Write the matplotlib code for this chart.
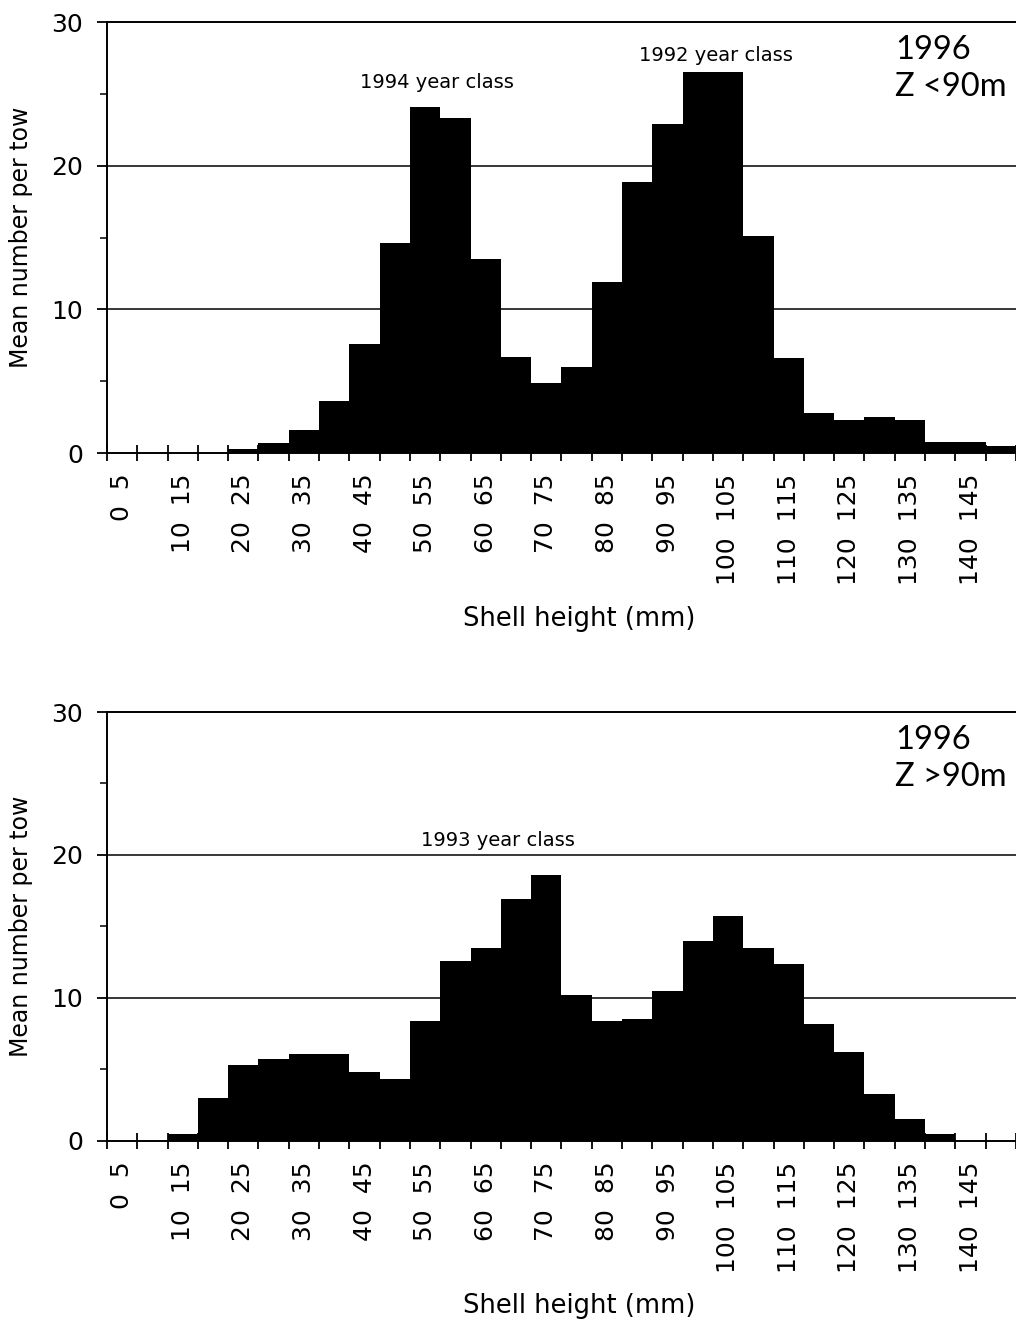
import matplotlib.pyplot as plt
import numpy as np

# shell height classes (mm), 5 mm bins
size_classes = list(range(0, 150, 5))

# mean number per tow, 1996, depth < 90 m
shallow = [0, 0, 0, 0, 0.3, 0.7, 1.6, 3.6, 7.6, 14.6,
           24.1, 23.3, 13.5, 6.7, 4.9, 6.0, 11.9, 18.9, 22.9, 26.5,
           26.5, 15.1, 6.6, 2.8, 2.3, 2.5, 2.3, 0.8, 0.8, 0.5]

# mean number per tow, 1996, depth > 90 m
deep = [0, 0, 0.5, 3.0, 5.3, 5.7, 6.1, 6.1, 4.8, 4.3,
        8.4, 12.6, 13.5, 16.9, 18.6, 10.2, 8.4, 8.5, 10.5, 14.0,
        15.7, 13.5, 12.4, 8.2, 6.2, 3.3, 1.5, 0.5, 0, 0]

tick_labels = [f"{s}  {s + 5}" for s in size_classes[::2]]

plt.rcParams['font.family'] = 'DejaVu Sans'

fig = plt.figure(figsize=(10.16, 13.2), dpi=100)
ax1 = fig.add_axes([0.1053, 0.6568, 0.8947, 0.3265])
ax2 = fig.add_axes([0.1053, 0.1358, 0.8947, 0.3248])


def draw_panel(ax, values, depth_text):
    x = np.arange(len(values))
    ax.bar(x, values, width=1.0, color='black', edgecolor='none', zorder=2)
    ax.set_xlim(-0.5, 29.2)
    ax.set_ylim(0, 30)

    #---  grid lines at 10 and 20 ---
    for yv in (10, 20):
        ax.axhline(yv, color='black', lw=1.1, zorder=1)

    ax.spines['right'].set_visible(False)
    for side in ('left', 'bottom', 'top'):
        ax.spines[side].set_linewidth(1.4)

    #---  y axis ---
    ax.set_yticks([0, 10, 20, 30])
    ax.set_yticks([5, 15, 25], minor=True)
    ax.tick_params(axis='y', which='major', direction='out', length=7,
                   width=1.3, labelsize=18, pad=10)
    ax.tick_params(axis='y', which='minor', direction='out', length=5,
                   width=1.1)
    ax.set_ylabel("Mean number per tow", fontsize=17)
    ax.yaxis.set_label_coords(-0.0814, 0.5)

    #---  x axis: boundary ticks + paired labels ---
    ax.set_xticks(np.arange(-0.5, 29.6, 1.0), minor=True)
    ax.set_xticks(x[::2])
    ax.set_xticklabels(tick_labels, rotation=90)
    ax.tick_params(axis='x', which='minor', direction='inout', length=11,
                   width=1.3)
    ax.tick_params(axis='x', which='major', length=0, labelsize=18, pad=15)
    ax.set_xlabel("Shell height (mm)", fontsize=18.5)
    ax.xaxis.set_label_coords(0.519, -0.355)

    ax.text(25.5, 29.1, "1996\n" + depth_text, family='Lato', fontsize=23.5,
            ha='left', va='top', linespacing=1.3)


draw_panel(ax1, shallow, "Z <90m")
draw_panel(ax2, deep, "Z >90m")

ax1.text(10.4, 25.8, "1994 year class", fontsize=14, ha='center', va='center')
ax1.text(19.6, 27.7, "1992 year class", fontsize=14, ha='center', va='center')
ax2.text(12.4, 21.0, "1993 year class", fontsize=14, ha='center', va='center')

plt.savefig('out.png', dpi=100)
